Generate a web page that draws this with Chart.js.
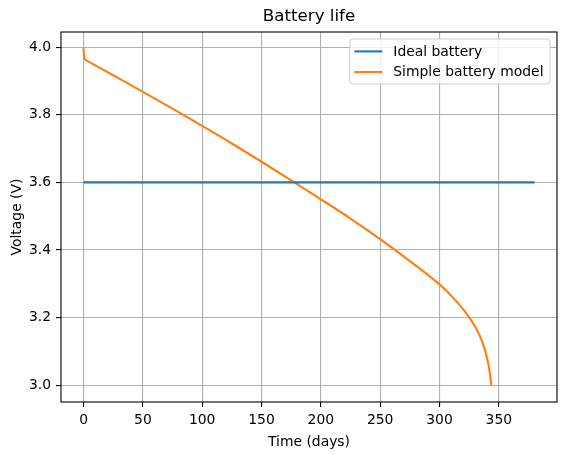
<!DOCTYPE html>
<html>
<head>
<meta charset="utf-8">
<title>Battery life</title>
<script src="https://cdn.jsdelivr.net/npm/chart.js@4.4.1/dist/chart.umd.min.js"></script>
<style>
  html, body { margin: 0; padding: 0; background: #fff; }
  #wrap { width: 567px; height: 455px; }
</style>
</head>
<body>
<div id="wrap"><canvas id="battery" width="567" height="455"></canvas></div>
<script>
const idealDays = [0, 380];
const idealVolts = [3.6, 3.6];

const modelDays = [0, 0.2, 0.5, 1, 2.5, 5, 25, 50, 75, 100, 125, 150, 175, 200, 225, 250, 275, 300, 310, 320, 327, 332, 336, 339, 341, 342.5, 343.6];
const modelVolts = [3.997, 3.982, 3.971, 3.966, 3.961, 3.956, 3.917, 3.868, 3.818, 3.767, 3.715, 3.661, 3.606, 3.550, 3.493, 3.432, 3.367, 3.298, 3.264, 3.224, 3.190, 3.160, 3.128, 3.095, 3.064, 3.034, 3.0];

const xTicks = [0, 50, 100, 150, 200, 250, 300, 350];
const yTicks = [3.0, 3.2, 3.4, 3.6, 3.8, 4.0];

const FONT = 'DejaVu Sans';
const TICK_SIZE = 13.9;
const BLUE = '#1f77b4';
const ORANGE = '#ff7f0e';

const toPoints = (xs, ys) => xs.map((x, i) => ({ x, y: ys[i] }));
const fixedTicks = (values) => (scale) => {
  scale.ticks = values.map((value) => ({ value }));
};

// spines, title and the matplotlib-style legend box
const decorations = {
  id: 'decorations',
  afterDatasetsDraw(chart) {
    const { ctx, chartArea: a } = chart;
    ctx.save();
    ctx.strokeStyle = '#000';
    ctx.lineWidth = 1.1;
    ctx.strokeRect(a.left, a.top, a.right - a.left, a.bottom - a.top);
    ctx.restore();
  },
  afterDraw(chart) {
    const { ctx, chartArea: a } = chart;
    ctx.save();
    ctx.fillStyle = '#000';
    ctx.font = `16.7px "${FONT}"`;
    ctx.textAlign = 'center';
    ctx.textBaseline = 'alphabetic';
    ctx.fillText('Battery life', (a.left + a.right) / 2, 21);

    const sets = chart.data.datasets;
    ctx.font = `${TICK_SIZE}px "${FONT}"`;
    const textW = Math.max(...sets.map((d) => ctx.measureText(d.label).width));
    const padL = 4.5;
    const handle = 28;
    const gap = 11;
    const boxW = padL + handle + gap + textW + 6.5;
    const rowH = 20.6;
    const boxH = 45;
    const right = a.right - 7;
    const left = right - boxW;
    const top = a.top + 7;

    ctx.beginPath();
    ctx.roundRect(left, top, boxW, boxH, 3);
    ctx.fillStyle = 'rgba(255,255,255,0.8)';
    ctx.fill();
    ctx.strokeStyle = '#cccccc';
    ctx.lineWidth = 1;
    ctx.stroke();

    ctx.textAlign = 'left';
    ctx.textBaseline = 'middle';
    sets.forEach((d, i) => {
      const y = top + 12.4 + i * rowH;
      ctx.beginPath();
      ctx.moveTo(left + padL, y);
      ctx.lineTo(left + padL + handle, y);
      ctx.strokeStyle = d.borderColor;
      ctx.lineWidth = 2.1;
      ctx.stroke();
      ctx.fillStyle = '#000';
      ctx.fillText(d.label, left + padL + handle + gap, y + 0.5);
    });
    ctx.restore();
  },
};

const axisCommon = {
  type: 'linear',
  border: { display: false },
  grid: {
    color: '#b0b0b0',
    lineWidth: 1.1,
    drawTicks: true,
    tickLength: 5,
    tickColor: '#000',
    tickWidth: 1.1,
  },
  ticks: {
    color: '#000',
    padding: 5,
    font: { family: FONT, size: TICK_SIZE },
  },
};

Chart.defaults.font.family = FONT;
Chart.defaults.color = '#000';

new Chart(document.getElementById('battery'), {
  type: 'line',
  data: {
    datasets: [
      {
        label: 'Ideal battery',
        data: toPoints(idealDays, idealVolts),
        borderColor: BLUE,
        backgroundColor: BLUE,
        borderWidth: 2.1,
        pointRadius: 0,
      },
      {
        label: 'Simple battery model',
        data: toPoints(modelDays, modelVolts),
        borderColor: ORANGE,
        backgroundColor: ORANGE,
        borderWidth: 2.1,
        pointRadius: 0,
        cubicInterpolationMode: 'monotone',
      },
    ],
  },
  options: {
    responsive: false,
    animation: false,
    layout: { padding: { top: 32, right: 10, bottom: 0, left: 0 } },
    plugins: {
      legend: { display: false },
      tooltip: { enabled: false },
      title: { display: false },
    },
    scales: {
      x: {
        ...axisCommon,
        position: 'bottom',
        min: -19,
        max: 399,
        afterBuildTicks: fixedTicks(xTicks),
        afterFit: (scale) => { scale.height = 53; },
        ticks: { ...axisCommon.ticks, maxRotation: 0, callback: (v) => String(v) },
        title: {
          display: true,
          text: 'Time (days)',
          color: '#000',
          font: { family: FONT, size: TICK_SIZE },
          padding: { top: 0, bottom: 4.7 },
        },
      },
      y: {
        ...axisCommon,
        position: 'left',
        min: 2.95,
        max: 4.045,
        afterBuildTicks: fixedTicks(yTicks),
        afterFit: (scale) => { scale.width = 61; },
        ticks: { ...axisCommon.ticks, callback: (v) => Number(v).toFixed(1) },
        title: {
          display: true,
          text: 'Voltage (V)',
          color: '#000',
          font: { family: FONT, size: TICK_SIZE },
          padding: { top: 8.7, bottom: 0 },
        },
      },
    },
  },
  plugins: [decorations],
});
</script>
</body>
</html>
